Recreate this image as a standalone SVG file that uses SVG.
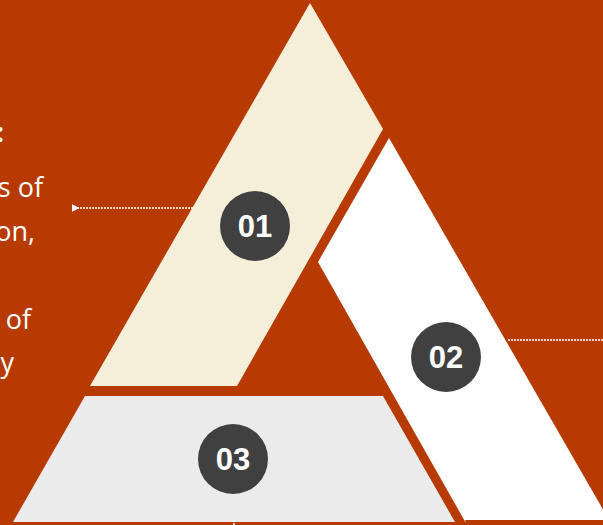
<svg xmlns="http://www.w3.org/2000/svg" width="603" height="525" viewBox="0 0 603 525">
  <defs>
    <style>
      .badge { fill: #404040; }
      .num { fill: #ffffff; font-family: "Liberation Sans", Arial, sans-serif; font-weight: bold; font-size: 31px; text-anchor: middle; }
      .body { fill: #ffffff; font-family: "Open Sans", "Noto Sans", sans-serif; font-size: 27px; text-anchor: end; }
      .conn { stroke: #ffffff; stroke-width: 1.6; stroke-dasharray: 2 1; fill: none; }
    </style>
    <marker id="arrow" viewBox="0 0 10 10" refX="2" refY="5" markerWidth="8" markerHeight="8" orient="auto-start-reverse" markerUnits="userSpaceOnUse">
      <path d="M0,5 L10,0 L10,10 Z" fill="#ffffff"/>
    </marker>
  </defs>
  <rect x="0" y="0" width="603" height="525" fill="#B73A00"/>

  <g id="text-left">
    <text class="body" x="4" y="142" font-weight="bold">:</text>
    <text class="body" x="43" y="197">s of</text>
    <text class="body" x="35" y="241">on,</text>
    <text class="body" x="31" y="329">of</text>
    <text class="body" x="14" y="372">y</text>
  </g>

  <g id="node-01">
    <polygon points="310,3 383,129 237,386 90,386" fill="#F5EFDA"/>
    <circle class="badge" cx="255" cy="226" r="35"/>
    <text class="num" x="255" y="237">01</text>
  </g>

  <g id="node-02">
    <polygon points="389,138 612,525 467,525 318,262" fill="#ffffff"/>
    <circle class="badge" cx="446" cy="357" r="35"/>
    <text class="num" x="446" y="368">02</text>
  </g>

  <g id="node-03">
    <polygon points="85,396 383,396 455,522 13,522" fill="#EBEBEB"/>
    <circle class="badge" cx="233" cy="459" r="35"/>
    <text class="num" x="233" y="470">03</text>
  </g>

  <rect x="0" y="522" width="603" height="3" fill="#B73A00"/>
  <polygon points="465,520 612,520 614,525 467,525" fill="#B73A00"/>

  <g id="connectors">
    <line class="conn" x1="193" y1="208" x2="78" y2="208" marker-end="url(#arrow)"/>
    <line class="conn" x1="508" y1="340" x2="603" y2="340"/>
    <line class="conn" x1="234" y1="520" x2="234" y2="525"/>
  </g>
</svg>
